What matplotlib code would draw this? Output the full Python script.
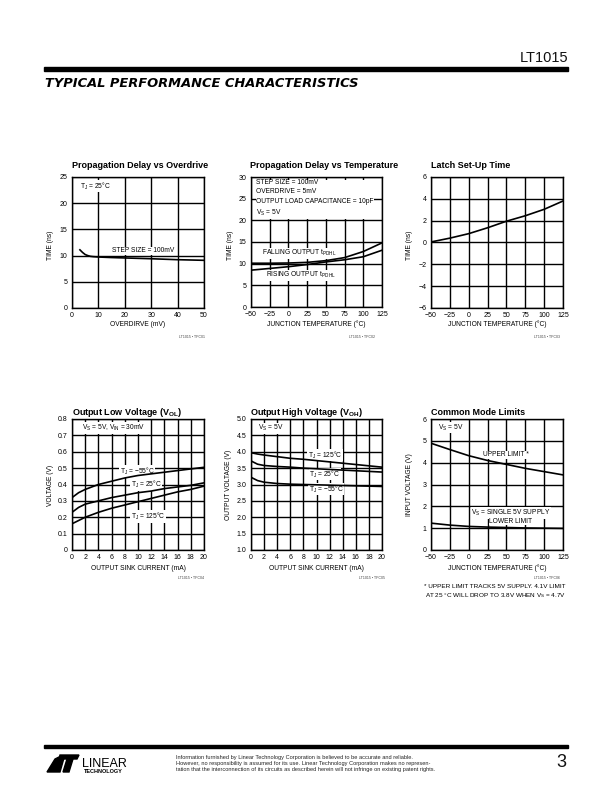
import matplotlib
matplotlib.use("Agg")
import matplotlib.pyplot as plt
from matplotlib.patches import Rectangle, Polygon

plt.rcParams['font.family'] = ['Liberation Sans', 'DejaVu Sans']
plt.rcParams['axes.unicode_minus'] = True

W, H = 612, 792
REG = ['Liberation Sans', 'DejaVu Sans']

# ---------------- data ----------------
# 1 Propagation delay vs overdrive
od_mv = [3, 4, 5, 6, 7, 8, 10, 15, 20, 30, 40, 50]
od_delay = [11.1, 10.6, 10.2, 10.0, 9.86, 9.8, 9.73, 9.63, 9.55, 9.4, 9.22, 9.1]

# 2 Propagation delay vs temperature
pd_temp = [-50, -25, 0, 25, 50, 75, 100, 125]
pd_falling = [10.1, 10.1, 10.15, 10.3, 10.7, 11.4, 12.8, 14.8]
pd_rising = [8.5, 8.9, 9.3, 9.8, 10.4, 10.9, 11.6, 13.1]

# 3 Latch set-up time
ls_temp = [-50, -25, 0, 25, 50, 75, 100, 125]
ls_time = [0.05, 0.4, 0.81, 1.35, 1.95, 2.45, 3.04, 3.8]

# 4 Output low voltage
vol_i = [0, 1, 2, 4, 6, 8, 10, 12, 14, 16, 18, 20]
vol_m55 = [0.32, 0.35, 0.37, 0.40, 0.42, 0.44, 0.455, 0.465, 0.475, 0.485, 0.495, 0.505]
vol_25 = [0.23, 0.26, 0.28, 0.30, 0.32, 0.335, 0.35, 0.36, 0.375, 0.385, 0.395, 0.41]
vol_125 = [0.16, 0.18, 0.20, 0.23, 0.255, 0.275, 0.295, 0.315, 0.335, 0.355, 0.37, 0.39]

# 5 Output high voltage
voh_i = [0, 1, 2, 4, 6, 8, 10, 12, 14, 16, 18, 20]
voh_125 = [3.97, 3.93, 3.9, 3.85, 3.8, 3.77, 3.73, 3.69, 3.65, 3.61, 3.57, 3.53]
voh_25 = [3.72, 3.62, 3.58, 3.55, 3.53, 3.5, 3.48, 3.46, 3.44, 3.42, 3.4, 3.38]
voh_m55 = [3.22, 3.12, 3.07, 3.03, 3.01, 3.0, 2.99, 2.98, 2.97, 2.96, 2.95, 2.94]

# 6 Common mode limits
cm_temp = [-50, -25, 0, 25, 50, 75, 100, 125]
cm_upper = [4.89, 4.6, 4.32, 4.1, 3.92, 3.74, 3.59, 3.44]
cm_lower = [1.23, 1.14, 1.08, 1.05, 1.03, 1.01, 1.0, 0.99]

fig = plt.figure(figsize=(W / 100, H / 100), dpi=100)
fig.patch.set_facecolor('white')


def fx(x):
    return x / W


def fy(y):
    return 1 - y / H


def add_ax(l, t, r, b):
    return fig.add_axes([fx(l), fy(b), (r - l) / W, (b - t) / H])


def style(ax, xt, yt, xlim, ylim, yfmt=None):
    ax.set_xlim(*xlim)
    ax.set_ylim(*ylim)
    ax.set_xticks(xt)
    ax.set_yticks(yt)
    ax.set_xticklabels([str(v).replace('-', '\u2212') for v in xt])
    ax.set_yticklabels(yfmt if yfmt else [str(v).replace('-', '\u2212') for v in yt])
    ax.grid(True, color='black', lw=1.0, zorder=0.5)
    ax.set_axisbelow(True)
    for s in ax.spines.values():
        s.set_linewidth(1.0)
        s.set_zorder(3)
    ax.tick_params(length=0, labelsize=5, pad=3.2)


def title(x, y, s):
    fig.text(fx(x), fy(y), s, ha='left', va='baseline', fontsize=6.5, fontweight='bold', family=REG)


def xlabel(xc, y, s):
    fig.text(fx(xc), fy(y), s, ha='center', va='center', fontsize=4.8, family=REG)


def ylabel(x, yc, s):
    fig.text(fx(x), fy(yc), s, ha='center', va='center', rotation=90, fontsize=4.8, family=REG)


def code(xr, y, s):
    fig.text(fx(xr), fy(y), s, ha='right', va='center', fontsize=2.6, color='#444444', family=REG)


BOX = dict(fc='white', ec='none', pad=0.4)


def note(ax, x, y, s, ha='left'):
    ax.text(x, y, s, fontsize=4.8, va='center', ha=ha, bbox=BOX, zorder=1.5)


LW = 1.2

# ---- header ----
fig.text(fx(568), fy(62), 'LT1015', ha='right', va='baseline', fontsize=10.5, family=REG, color='#111111')
fig.add_artist(Rectangle((fx(44), fy(71)), (568 - 44) / W, 4 / H, transform=fig.transFigure, color='black'))
fig.text(fx(45), fy(87), 'TYPICAL PERFORMANCE CHARACTERISTICS', ha='left', va='baseline',
         fontsize=9.4, fontweight='bold', style='italic', family=['DejaVu Sans'])

# ---- chart 1 ----
ax = add_ax(72, 177, 204, 308)
ax.plot(od_mv, od_delay, color='black', lw=LW, zorder=2)
style(ax, [0, 10, 20, 30, 40, 50], [0, 5, 10, 15, 20, 25], (0, 50), (0, 25))
note(ax, 3, 23.3, 'T$_\\mathregular{J}$ = 25°C')
note(ax, 15.2, 10.9, 'STEP SIZE = 100mV')
title(72, 168, 'Propagation Delay vs Overdrive')
xlabel(138, 324, 'OVERDIRVE (mV)')
ylabel(50, 245, 'TIME (ns)')
code(205, 337, 'LT1015 • TPC01')

# ---- chart 2 ----
ax = add_ax(251, 177, 382, 307)
ax.plot(pd_temp, pd_falling, color='black', lw=LW, zorder=2)
ax.plot(pd_temp, pd_rising, color='black', lw=LW, zorder=2)
style(ax, [-50, -25, 0, 25, 50, 75, 100, 125], [0, 5, 10, 15, 20, 25, 30], (-50, 125), (0, 30))
ax.text(-43, 25.0, 'STEP SIZE = 100mV\nOVERDRIVE = 5mV\nOUTPUT LOAD CAPACITANCE = 10pF\nV$_\\mathregular{S}$ = 5V',
        fontsize=4.8, va='center', ha='left', linespacing=1.45, bbox=BOX, zorder=1.5)
note(ax, -35, 12.4, 'FALLING OUTPUT t$_\\mathregular{PDHL}$')
note(ax, -30, 7.3, 'RISING OUTPUT t$_\\mathregular{PDHL}$')
title(250, 168, 'Propagation Delay vs Temperature')
xlabel(316, 324, 'JUNCTION TEMPERATURE (°C)')
ylabel(230, 245, 'TIME (ns)')
code(375, 337, 'LT1015 • TPC02')

# ---- chart 3 ----
ax = add_ax(431, 177, 563, 308)
ax.plot(ls_temp, ls_time, color='black', lw=LW, zorder=2)
style(ax, [-50, -25, 0, 25, 50, 75, 100, 125], [-6, -4, -2, 0, 2, 4, 6], (-50, 125), (-6, 6))
title(431, 168, 'Latch Set-Up Time')
xlabel(497, 324, 'JUNCTION TEMPERATURE (°C)')
ylabel(410, 245, 'TIME (ns)')
code(560, 337, 'LT1015 • TPC03')

# ---- chart 4 ----
ax = add_ax(72, 419, 204, 550)
ax.plot(vol_i, vol_m55, color='black', lw=LW, zorder=2)
ax.plot(vol_i, vol_25, color='black', lw=LW, zorder=2)
ax.plot(vol_i, vol_125, color='black', lw=LW, zorder=2)
style(ax, list(range(0, 21, 2)), [0, 0.1, 0.2, 0.3, 0.4, 0.5, 0.6, 0.7, 0.8], (0, 20), (0, 0.8),
      yfmt=['0', '0.1', '0.2', '0.3', '0.4', '0.5', '0.6', '0.7', '0.8'])
note(ax, 1.5, 0.745, 'V$_\\mathregular{S}$ = 5V, V$_\\mathregular{IN}$ = 30mV')
note(ax, 7.2, 0.48, 'T$_\\mathregular{J}$ = \u221255°C')
note(ax, 8.9, 0.40, 'T$_\\mathregular{J}$ = 25°C')
note(ax, 8.9, 0.205, 'T$_\\mathregular{J}$ = 125°C')
title(72, 415, 'Output Low Voltage (V$_\\mathregular{OL}$)')
xlabel(138, 568, 'OUTPUT SINK CURRENT (mA)')
ylabel(50, 485, 'VOLTAGE (V)')
code(204, 578, 'LT1015 • TPC04')

# ---- chart 5 ----
ax = add_ax(251, 419, 382, 550)
ax.plot(voh_i, voh_125, color='black', lw=LW, zorder=2)
ax.plot(voh_i, voh_25, color='black', lw=LW, zorder=2)
ax.plot(voh_i, voh_m55, color='black', lw=LW, zorder=2)
yt5 = [1.0, 1.5, 2.0, 2.5, 3.0, 3.5, 4.0, 4.5, 5.0]
style(ax, list(range(0, 21, 2)), yt5, (0, 20), (1.0, 5.0), yfmt=['%.1f' % v for v in yt5])
note(ax, 1.1, 4.72, 'V$_\\mathregular{S}$ = 5V')
note(ax, 8.7, 3.9, 'T$_\\mathregular{J}$ = 125°C')
note(ax, 8.9, 3.31, 'T$_\\mathregular{J}$ = 25°C')
note(ax, 8.8, 2.86, 'T$_\\mathregular{J}$ = \u221255°C')
title(250, 415, 'Output High Voltage (V$_\\mathregular{OH}$)')
xlabel(316, 568, 'OUTPUT SINK CURRENT (mA)')
ylabel(229, 485, 'OUTPUT VOLTAGE (V)')
code(385, 578, 'LT1015 • TPC05')

# ---- chart 6 ----
ax = add_ax(431, 419, 563, 550)
ax.plot(cm_temp, cm_upper, color='black', lw=LW, zorder=2)
ax.plot(cm_temp, cm_lower, color='black', lw=LW, zorder=2)
style(ax, [-50, -25, 0, 25, 50, 75, 100, 125], [0, 1, 2, 3, 4, 5, 6], (-50, 125), (0, 6))
note(ax, -40.7, 5.6, 'V$_\\mathregular{S}$ = 5V')
note(ax, 19, 4.36, 'UPPER LIMIT *')
note(ax, 56, 1.69, 'V$_\\mathregular{S}$ = SINGLE 5V SUPPLY', ha='center')
note(ax, 56, 1.31, 'LOWER LIMIT', ha='center')
title(431, 415, 'Common Mode Limits')
xlabel(497, 568, 'JUNCTION TEMPERATURE (°C)')
ylabel(410, 485, 'INPUT VOLTAGE (V)')
code(560, 578, 'LT1015 • TPC06')
fig.text(fx(565), fy(587), '* UPPER LIMIT TRACKS 5V SUPPLY. 4.1V LIMIT', ha='right', va='center',
         fontsize=4.6, family=REG)
fig.text(fx(565), fy(596), 'AT 25 °C WILL DROP TO 3.8V WHEN V$_\\mathregular{S}$ = 4.7V', ha='right', va='center',
         fontsize=4.6, family=REG)

# ---- footer ----
fig.add_artist(Rectangle((fx(44), fy(748)), (568 - 44) / W, 3.5 / H, transform=fig.transFigure, color='black'))
for pts in ([(47, 772), (60, 772), (64, 758), (61, 756), (55, 759)],
            [(60, 755), (79, 755), (77, 759), (59, 759)],
            [(67, 759), (73, 759), (69, 772), (63, 772)]):
    fig.add_artist(Polygon([(fx(a), fy(b)) for a, b in pts], closed=True, transform=fig.transFigure,
                           color='black'))
fig.text(fx(82), fy(767), 'LINEAR', ha='left', va='baseline', fontsize=9, family=REG)
fig.text(fx(84), fy(773), 'TECHNOLOGY', ha='left', va='baseline', fontsize=4.0, fontweight='bold', family=REG)
foot = ['Information furnished by Linear Technology Corporation is believed to be accurate and reliable.',
        'However, no responsibility is assumed for its use. Linear Technology Corporation makes no represen-',
        'tation that the interconnection of its circuits as described herein will not infringe on existing patent rights.']
for i, s in enumerate(foot):
    fig.text(fx(176), fy(757 + 6 * i), s, ha='left', va='center', fontsize=4.1, family=REG, color='#222222')
fig.text(fx(566), fy(767), '3', ha='right', va='baseline', fontsize=13, family=REG, color='#111111')

fig.savefig('out.png', dpi=100, facecolor='white')
